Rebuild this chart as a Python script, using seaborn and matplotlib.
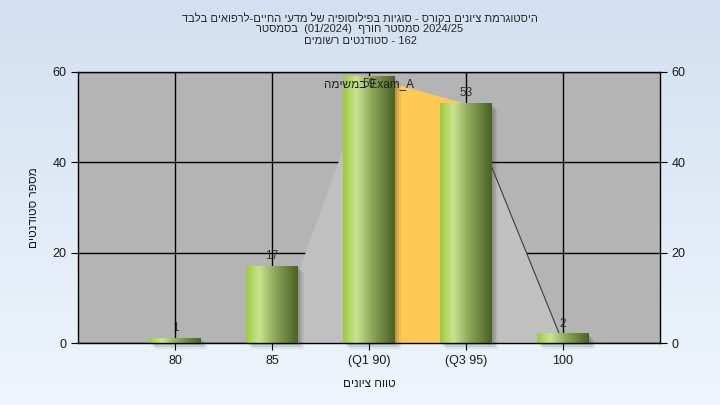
import matplotlib
matplotlib.use('Agg')
import matplotlib.pyplot as plt
import matplotlib.transforms as mtransforms
from matplotlib.colors import LinearSegmentedColormap
from matplotlib.patches import Rectangle
import numpy as np
import seaborn as sns


grades = ['80', '85', '(Q1 90)', '(Q3 95)', '100']
students = [1, 17, 59, 53, 2]

# frequency polygon area (85..100) and the Q1-Q3 band
area_x = [1, 2, 3, 4]
area_y = [0, 59, 53, 0]
band_x = [2, 3]
band_y = [59, 53]


def rtl(s):
    # matplotlib has no bidi, so hebrew goes in reversed
    return s[::-1]


title_1 = rtl('היסטוגרמת ציונים בקורס - סוגיות בפילוסופיה של מדעי החיים-לרפואים בלבד')
title_2 = rtl('בסמסטר') + '  (01/2024)  ' + rtl('סמסטר חורף') + ' 2024/25'
title_3 = rtl('סטודנטים רשומים') + ' - 162'
y_label = rtl('מספר סטודנטים')
x_label = rtl('טווח ציונים')
note = rtl('במשימה') + ' Exam_A'

sns.set_style('white')
plt.rcParams['font.family'] = ['Liberation Sans', 'DejaVu Sans']

fig = plt.figure(figsize=(7.2, 4.05), dpi=100)

# background gradient for the whole figure
bg = fig.add_axes([0, 0, 1, 1], zorder=-10)
grad = np.linspace(0, 1, 256).reshape(-1, 1)
bg_cmap = LinearSegmentedColormap.from_list('bg', ['#d3e0f1', '#eef5fc'])
bg.imshow(grad, cmap=bg_cmap, aspect='auto', extent=[0, 1, 0, 1])
bg.axis('off')

ax = fig.add_axes([78 / 720, 1 - 343 / 405, 582 / 720, 271 / 405])
ax.set_facecolor('#b4b4b4')

sns.barplot(x=grades, y=students, width=0.53, color='#9cc940', ax=ax)

ax.fill_between(area_x, area_y, color='#c0c0c0', zorder=1, lw=0)
ax.fill_between(band_x, band_y, color='#ffc955', zorder=1.2, lw=0)
ax.plot(area_x[2:], area_y[2:], color='#3c3c3c', lw=0.8, zorder=1.5)

bar_cmap = LinearSegmentedColormap.from_list(
    'bar', [(0, '#9ccb3c'), (0.25, '#c9e491'), (0.55, '#8ea85c'), (1, '#4a6222')])
hgrad = np.linspace(0, 1, 128).reshape(1, -1)

for p in ax.patches:
    x0, w, h = p.get_x(), p.get_width(), p.get_height()
    p.set_visible(False)
    # soft drop shadow, a few stacked rectangles
    for k, a in [(2, 0.18), (4, 0.14), (6, 0.08)]:
        tr = mtransforms.offset_copy(ax.transData, fig=fig, x=k, y=-k, units='dots')
        ax.add_patch(Rectangle((x0, 0), w, h, transform=tr, facecolor='#404040',
                               alpha=a, lw=0, zorder=2.5, clip_on=False))
    ax.imshow(hgrad, cmap=bar_cmap, aspect='auto', extent=[x0, x0 + w, 0, h],
              zorder=3)

for i, v in enumerate(students):
    if v > 56:
        ax.text(i, 57.3, str(v), ha='center', va='center', fontsize=8.5,
                color='#303030', zorder=5)
    else:
        ax.annotate(str(v), (i, v), xytext=(0, 3), textcoords='offset points',
                    ha='center', va='bottom', fontsize=8.5, color='#303030',
                    zorder=5)

ax.text(2, 57.3, note, ha='center', va='center', fontsize=8.5,
        color='#202020', zorder=5)

ax.set_xlim(-1, 5)
ax.set_ylim(0, 60)
ax.set_yticks([0, 20, 40, 60])
ax.grid(True, color='black', lw=1)
ax.set_axisbelow(True)
for s in ax.spines.values():
    s.set_color('black')
    s.set_linewidth(1)
    s.set_visible(True)
    s.set_zorder(4)

ax.tick_params(axis='both', which='both', direction='out', length=5,
               color='black', labelsize=9, labelcolor='#1a1a1a',
               left=True, right=True, labelright=True, bottom=True)

ax.set_xlabel(x_label, fontsize=8.5, labelpad=8, color='#1a1a1a')
ax.set_ylabel(y_label, fontsize=8.5, labelpad=9, color='#1a1a1a')

fig.text(0.5, 1 - 18 / 405, title_1, ha='center', va='center', fontsize=8)
fig.text(0.5, 1 - 29.5 / 405, title_2, ha='center', va='center', fontsize=8)
fig.text(0.5, 1 - 41 / 405, title_3, ha='center', va='center', fontsize=8)

fig.savefig('out.png', dpi=100)
